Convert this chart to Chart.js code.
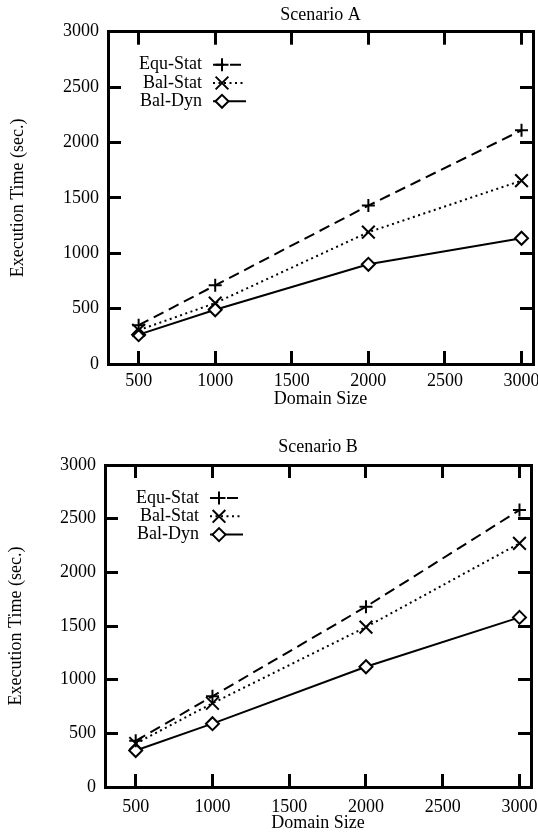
<!DOCTYPE html>
<html>
<head>
<meta charset="utf-8">
<script src="https://cdn.jsdelivr.net/npm/chart.js@4/dist/chart.umd.min.js"></script>
<style>
  html, body { margin: 0; padding: 0; background: #fff; }
  canvas { display: block; }
</style>
</head>
<body>
<canvas id="chartA" width="538" height="418"></canvas>
<canvas id="chartB" width="538" height="418"></canvas>
<script>
// Problem sizes on the x axis and the measured execution times (seconds)
const domainSizes = [500, 1000, 2000, 3000];
const xTickValues = [500, 1000, 1500, 2000, 2500, 3000];
const yTickValues = [0, 500, 1000, 1500, 2000, 2500, 3000];
const seriesNames = ['Equ-Stat', 'Bal-Stat', 'Bal-Dyn'];

const equStatA = [350, 710, 1430, 2110];
const balStatA = [305, 550, 1190, 1655];
const balDynA  = [265, 490, 900, 1135];

const equStatB = [430, 845, 1680, 2580];
const balStatB = [405, 780, 1490, 2270];
const balDynB  = [340, 590, 1120, 1580];

const FONT = "'Liberation Serif', 'Times New Roman', serif";
const TICK_IN = 13;   // length of the inward tick marks

// dashed / dotted / solid lines with plus, cross and diamond markers
const seriesStyles = [
  { borderDash: [11, 6], pointStyle: 'cross', pointRadius: 6.5 },
  { borderDash: [2, 3.5], pointStyle: 'crossRot', pointRadius: 9 },
  { borderDash: [], pointStyle: 'rectRot', pointRadius: 6.5 }
];

// key in the upper-left corner: label, then a line sample with its marker
const keyPlugin = {
  id: 'plotKey',
  afterDraw(chart) {
    const ctx = chart.ctx;
    const a = chart.chartArea;
    ctx.save();
    ctx.font = '18px ' + FONT;
    ctx.textAlign = 'right';
    ctx.textBaseline = 'middle';
    chart.data.datasets.forEach((ds, i) => {
      const yy = a.top + 33 + i * 18.3;
      ctx.fillStyle = '#000';
      ctx.fillText(ds.label, a.left + 94, yy);
      ctx.strokeStyle = '#000';
      ctx.lineWidth = ds.borderWidth;
      ctx.setLineDash(ds.borderDash);
      ctx.beginPath();
      ctx.moveTo(a.left + 105, yy);
      ctx.lineTo(a.left + 138, yy);
      ctx.stroke();
      ctx.setLineDash([]);
      ctx.lineWidth = ds.pointBorderWidth;
      ctx.fillStyle = '#fff';
      Chart.helpers.drawPoint(ctx, {
        pointStyle: ds.pointStyle,
        radius: ds.pointRadius,
        borderWidth: ds.pointBorderWidth,
        rotation: 0
      }, a.left + 114, yy);
    });
    ctx.restore();
  }
};

function makeChart(id, title, values, geo) {
  const font = { family: FONT, size: 18, weight: 'normal' };
  const frame = { display: true, width: 3, color: '#000' };
  // tick marks only, drawn inward (negative length), no grid lines in the plot
  const inwardTicks = {
    display: true, drawOnChartArea: false, drawTicks: true,
    tickLength: -TICK_IN, tickWidth: 3, tickColor: '#000'
  };
  const setX = s => { s.ticks = xTickValues.map(v => ({ value: v })); };
  const setY = s => { s.ticks = yTickValues.map(v => ({ value: v })); };
  return new Chart(document.getElementById(id), {
    type: 'line',
    data: {
      datasets: seriesNames.map((name, i) => Object.assign({
        label: name,
        data: domainSizes.map((d, j) => ({ x: d, y: values[i][j] })),
        borderColor: '#000',
        backgroundColor: '#fff',
        borderWidth: 2,
        pointBorderColor: '#000',
        pointBackgroundColor: '#fff',
        pointBorderWidth: 2,
        tension: 0,
        fill: false
      }, seriesStyles[i]))
    },
    options: {
      responsive: false,
      animation: false,
      events: [],
      layout: { autoPadding: false, padding: { top: 0, left: 0, right: geo.right, bottom: 0 } },
      plugins: {
        legend: { display: false },
        tooltip: { enabled: false },
        title: {
          display: true,
          text: title,
          fullSize: false,
          color: '#000',
          font: font,
          padding: { top: geo.titleTop, bottom: geo.titleBottom }
        }
      },
      scales: {
        x: {
          type: 'linear',
          min: 300,
          max: 3075,
          afterBuildTicks: setX,
          afterFit: s => { s.height = geo.xHeight; s.paddingLeft = 0; s.paddingRight = 0; },
          grid: inwardTicks,
          border: frame,
          ticks: {
            color: '#000', font: font, padding: geo.xTickPad + TICK_IN,
            maxRotation: 0, autoSkip: false, callback: v => String(v)
          },
          title: {
            display: true, text: 'Domain Size', color: '#000', font: font,
            padding: { top: 0, bottom: geo.xTitleBottom }
          }
        },
        xTop: {
          type: 'linear',
          position: 'top',
          min: 300,
          max: 3075,
          afterBuildTicks: setX,
          afterFit: s => { s.height = 0; s.paddingLeft = 0; s.paddingRight = 0; },
          grid: inwardTicks,
          border: frame,
          ticks: { display: false }
        },
        y: {
          type: 'linear',
          min: 0,
          max: 3000,
          afterBuildTicks: setY,
          afterFit: s => { s.width = geo.yWidth; s.paddingTop = 0; s.paddingBottom = 0; },
          grid: inwardTicks,
          border: frame,
          ticks: {
            color: '#000', font: font, padding: 9 + TICK_IN,
            autoSkip: false, callback: v => String(v)
          },
          title: {
            display: true, text: 'Execution Time (sec.)', color: '#000', font: font,
            padding: { top: geo.yTitlePad, bottom: 0 }
          }
        },
        yRight: {
          type: 'linear',
          position: 'right',
          min: 0,
          max: 3000,
          afterBuildTicks: setY,
          afterFit: s => { s.width = 0; s.paddingTop = 0; s.paddingBottom = 0; },
          grid: inwardTicks,
          border: frame,
          ticks: { display: false }
        }
      }
    },
    plugins: [keyPlugin]
  });
}

makeChart('chartA', 'Scenario A', [equStatA, balStatA, balDynA], {
  right: 5, titleTop: 4.2, titleBottom: 5.9, xHeight: 54, yWidth: 108,
  xTickPad: 6.7, xTitleBottom: 8.2, yTitlePad: 7.7
});
makeChart('chartB', 'Scenario B', [equStatB, balStatB, balDynB], {
  right: 7, titleTop: 18.2, titleBottom: 7.2, xHeight: 49, yWidth: 105,
  xTickPad: 9.7, xTitleBottom: 2.2, yTitlePad: 5.5
});
</script>
</body>
</html>
